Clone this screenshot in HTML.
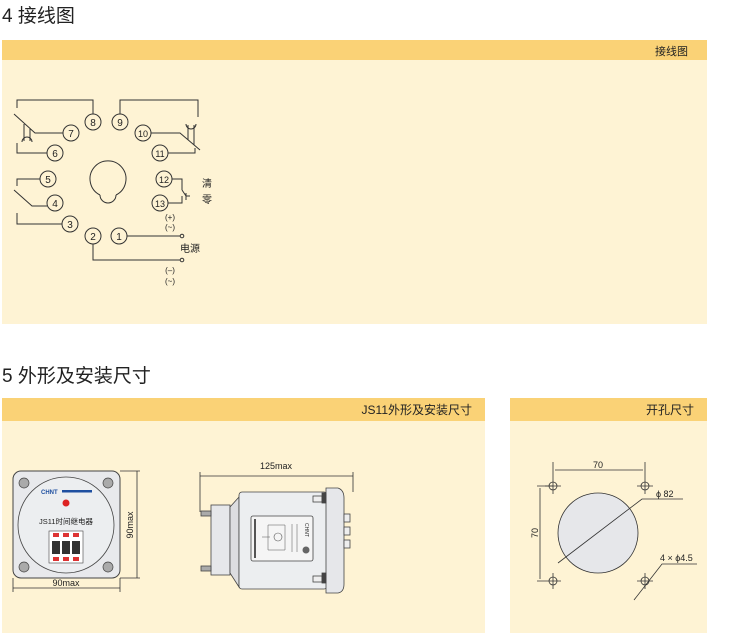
<!DOCTYPE html>
<html><head><meta charset="utf-8"><style>
body{margin:0;background:#fff;width:745px;height:633px;overflow:hidden;font-family:"Liberation Sans","Noto Sans CJK SC",sans-serif}
</style></head><body>
<svg width="745" height="633" viewBox="0 0 745 633" xmlns="http://www.w3.org/2000/svg" font-family="Liberation Sans, Noto Sans CJK SC, sans-serif">
<text x="2" y="22" font-size="19" fill="#222">4 接线图</text>
<rect x="2" y="40" width="705" height="20" fill="#fad276"/>
<rect x="2" y="60" width="705" height="264" fill="#fef3d4"/>
<text x="688" y="55" font-size="11" fill="#222" text-anchor="end">接线图</text>

<g stroke="#333" stroke-width="1" fill="none">
<circle cx="93" cy="122" r="8"/><circle cx="120" cy="122" r="8"/>
<circle cx="71" cy="133" r="8"/><circle cx="143" cy="133" r="8"/>
<circle cx="55" cy="153" r="8"/><circle cx="160" cy="153" r="8"/>
<circle cx="48" cy="179" r="8"/><circle cx="164" cy="179" r="8"/>
<circle cx="55" cy="203" r="8"/><circle cx="160" cy="203" r="8"/>
<circle cx="70" cy="224" r="8"/><circle cx="93" cy="236" r="8"/><circle cx="119" cy="236" r="8"/>
<path d="M100 195 A18 18 0 1 1 116 195"/><path d="M100 195 A5 5 0 0 0 116 195"/>
<path d="M93 114 V100 H17 V108"/><path d="M14 114 L35 133 H63"/><path d="M22 142 A5 5 0 0 1 32 142"/><path d="M24 124 V141 M30 129 V141"/><path d="M17 143 V153 H47"/>
<path d="M120 114 V100 H198 V117"/><path d="M186 124 A5 5 0 0 0 196 124"/><path d="M188 125 V140 M194 125 V145"/><path d="M151 133 H180 L200 150"/><path d="M168 153 H195 V148"/>
<path d="M40 179 H17 V186"/><path d="M14 190 L32 206 H47"/><path d="M17 213 V224 H62"/>
<path d="M172 179 H182 V190"/><path d="M168 203 H182 V196"/><path d="M182 190 L186 196"/><path d="M186 193 V200 M186 196 H190"/>
<path d="M127 236 H180"/><path d="M93 244 V260 H180"/>
<circle cx="182" cy="236" r="1.8"/><circle cx="182" cy="260" r="1.8"/>
</g>
<g font-size="10" fill="#222" text-anchor="middle">
<text x="93" y="126">8</text><text x="120" y="126">9</text><text x="71" y="137">7</text><text x="143" y="137" font-size="9">10</text>
<text x="55" y="157">6</text><text x="160" y="157" font-size="9">11</text><text x="48" y="183">5</text><text x="164" y="183" font-size="9">12</text>
<text x="55" y="207">4</text><text x="160" y="207" font-size="9">13</text><text x="70" y="228">3</text><text x="93" y="240">2</text><text x="119" y="240">1</text>
<text x="207" y="187">清</text><text x="207" y="203">零</text><text x="190" y="252">电源</text>
<text x="170" y="220" font-size="8">(+)</text><text x="170" y="230" font-size="8">(~)</text>
<text x="170" y="273" font-size="8">(–)</text><text x="170" y="284" font-size="8">(~)</text>
</g>

<text x="2" y="382" font-size="19" fill="#222">5 外形及安装尺寸</text>
<rect x="2" y="398" width="483" height="23" fill="#fad276"/>
<rect x="2" y="421" width="483" height="212" fill="#fef3d4"/>
<rect x="510" y="398" width="197" height="23" fill="#fad276"/>
<rect x="510" y="421" width="197" height="212" fill="#fef3d4"/>
<text x="472" y="414" font-size="12" fill="#222" text-anchor="end">JS11外形及安装尺寸</text>
<text x="694" y="414" font-size="12" fill="#222" text-anchor="end">开孔尺寸</text>

<!-- front view -->
<rect x="13" y="471" width="107" height="107" rx="8" fill="#e8e9ec" stroke="#444"/>
<circle cx="66" cy="525" r="48" fill="#eceef0" stroke="#444" stroke-width="0.8"/>
<g fill="#aaa" stroke="#444" stroke-width="0.7"><circle cx="24" cy="483" r="5"/><circle cx="108" cy="483" r="5"/><circle cx="24" cy="567" r="5"/><circle cx="108" cy="567" r="5"/></g>
<text x="41" y="494" font-size="6" fill="#1e4fa0" font-weight="bold">CHNT</text>
<rect x="62" y="490" width="30" height="2.5" fill="#1e4fa0"/>
<circle cx="66" cy="503" r="3.5" fill="#d22"/>
<text x="66" y="524" font-size="7.5" fill="#222" text-anchor="middle">JS11时间继电器</text>
<rect x="49" y="531" width="34" height="32" fill="#fff" stroke="#444" stroke-width="0.6"/>
<g fill="#333"><rect x="52" y="541" width="8" height="13"/><rect x="62" y="541" width="8" height="13"/><rect x="72" y="541" width="8" height="13"/></g>
<g fill="#d33"><rect x="53" y="533" width="6" height="4"/><rect x="63" y="533" width="6" height="4"/><rect x="73" y="533" width="6" height="4"/><rect x="53" y="557" width="6" height="4"/><rect x="63" y="557" width="6" height="4"/><rect x="73" y="557" width="6" height="4"/></g>
<g stroke="#333" stroke-width="0.8" fill="none">
<path d="M120 471 H140 M120 578 H140 M137 471 V578 M13 578 V592 M120 578 V592 M13 588 H120"/>
<path d="M200 512 V472 M353 492 V472 M200 476 H353"/>
</g>
<text x="66" y="586" font-size="9" fill="#222" text-anchor="middle">90max</text>
<text transform="translate(133 525) rotate(-90)" font-size="9" fill="#222" text-anchor="middle">90max</text>
<text x="276" y="469" font-size="9" fill="#222" text-anchor="middle">125max</text>

<!-- side view -->
<g stroke="#444" stroke-width="0.8">
<rect x="211" y="505" width="19" height="70" fill="#e6e7ea"/>
<path d="M230 507 L239 497 V587 L230 573 Z" fill="#dcdde0"/>
<rect x="239" y="492" width="88" height="97" rx="3" fill="#eceef0"/>
<path d="M326 488 H338 Q344 490 344 498 V584 Q344 592 338 593 H326 Z" fill="#e6e7ea"/>
<rect x="344" y="514" width="6" height="8" fill="#eee"/><rect x="344" y="527" width="6" height="8" fill="#eee"/><rect x="344" y="540" width="6" height="8" fill="#eee"/>
<rect x="313" y="496" width="9" height="6" fill="#eee"/><rect x="322" y="493" width="4" height="10" fill="#444"/>
<rect x="313" y="576" width="9" height="6" fill="#eee"/><rect x="322" y="573" width="4" height="10" fill="#444"/>
<rect x="201" y="511" width="10" height="5" fill="#aaa"/><rect x="201" y="566" width="10" height="5" fill="#aaa"/>
<rect x="251" y="516" width="62" height="45" rx="2" fill="#f5f5f5"/>
</g>
<rect x="254" y="519" width="2" height="39" fill="#555"/>
<circle cx="278" cy="537" r="4" fill="none" stroke="#555" stroke-width="0.6"/>
<path d="M268 525 H285 V550 H268 Z M262 537 H270 M292 524 V552 M297 524 V552" stroke="#555" stroke-width="0.5" fill="none"/>
<circle cx="306" cy="550" r="3.5" fill="#666"/>
<text transform="translate(305 523) rotate(90)" font-size="5" fill="#333">CHNT</text>

<!-- cutout -->
<circle cx="598" cy="533" r="40" fill="#e6e7ea" stroke="#333" stroke-width="0.8"/>
<g stroke="#333" stroke-width="0.8" fill="none">
<circle cx="553" cy="486" r="4"/><circle cx="645" cy="486" r="4"/><circle cx="553" cy="581" r="4"/><circle cx="645" cy="581" r="4"/>
<path d="M545 486 H561 M553 478 V494 M637 486 H653 M645 478 V494 M537 581 H561 M553 573 V589 M637 581 H653 M645 573 V589"/>
<path d="M553 478 V462 M645 478 V462 M555 470 H643 M537 486 H553 M540 488 V579"/>
<path d="M558 563 L642 499 H683 M634 600 L662 564 H697"/>
</g>
<text x="598" y="468" font-size="9" fill="#222" text-anchor="middle">70</text>
<text transform="translate(538 533) rotate(-90)" font-size="9" fill="#222" text-anchor="middle">70</text>
<text x="656" y="497" font-size="9" fill="#222">ϕ 82</text>
<text x="660" y="561" font-size="9" fill="#222">4 × ϕ4.5</text>
</svg>
</body></html>
